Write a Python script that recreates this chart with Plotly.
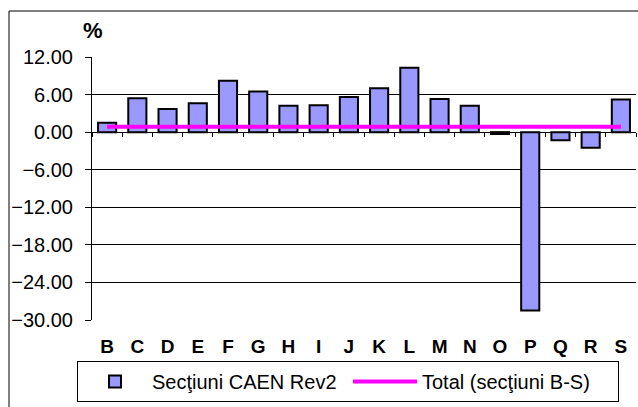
import plotly.graph_objects as go

categories = ["B", "C", "D", "E", "F", "G", "H", "I", "J", "K", "L", "M", "N", "O", "P", "Q", "R", "S"]
section_values = [1.5, 5.4, 3.7, 4.6, 8.2, 6.5, 4.2, 4.3, 5.6, 7.0, 10.3, 5.3, 4.2, -0.3, -28.5, -1.3, -2.5, 5.2]
total_values = [0.85] * len(categories)
y_ticks = [12, 6, 0, -6, -12, -18, -24, -30]

W, H = 638, 407
L, R, T, B = 92, 2, 57, 87
ymin, ymax = -30, 12
PW, PH = W - L - R, H - T - B

fig = go.Figure()
fig.add_trace(go.Bar(
    x=categories, y=section_values, name="Secţiuni CAEN Rev2",
    marker=dict(color="#9999FF", line=dict(color="black", width=2)),
    width=0.6,
))
fig.add_trace(go.Scatter(
    x=categories, y=total_values, name="Total (secţiuni B-S)", mode="lines",
    line=dict(color="#FF00FF", width=4), xaxis="x2",
))

font = dict(family="Liberation Sans, Arial, sans-serif", color="black")
fig.update_layout(
    width=W, height=H,
    margin=dict(l=L, r=R, t=T, b=B, pad=0),
    paper_bgcolor="white", plot_bgcolor="white",
    font=dict(**font, size=20),
    showlegend=True,
    legend=dict(orientation="h", x=(77 - L) / PW, y=-(361 - (H - B)) / PH,
                xanchor="left", yanchor="top", bordercolor="black", borderwidth=1,
                font=dict(**font, size=20), tracegroupgap=0, itemwidth=64,
                entrywidth=191, entrywidthmode="pixels",
                traceorder="normal"),
    xaxis=dict(type="category", categoryarray=categories, range=[-0.5, len(categories) - 0.5],
               showgrid=False, showline=False, ticks="", zeroline=False,
               tickfont=dict(**font, size=19, weight="bold"), ticklabelstandoff=13),
    xaxis2=dict(type="category", categoryarray=categories, range=[-0.5, len(categories) - 0.5],
                overlaying="x", anchor="free", position=(0 - ymin) / (ymax - ymin),
                side="bottom", showgrid=False, showline=False, showticklabels=False,
                ticks="outside", ticklen=4, tickwidth=1, tickcolor="black", tickson="boundaries",
                zeroline=False),
    yaxis=dict(range=[ymin, ymax], tickvals=y_ticks, tickformat=".2f",
               showgrid=True, gridcolor="black", gridwidth=1,
               zeroline=True, zerolinecolor="black", zerolinewidth=1,
               showline=True, linecolor="black", linewidth=1,
               ticks="outside", ticklen=6, tickcolor="black",
               tickfont=dict(**font, size=20), ticklabelstandoff=8),
    annotations=[dict(text="<b>%</b>", xref="paper", yref="paper",
                      x=(81 - L) / PW, y=1 + (T - 16) / PH,
                      xanchor="left", yanchor="top", showarrow=False,
                      font=dict(**font, size=22))],
    shapes=[dict(type="rect", xref="paper", yref="paper",
                 x0=(9 - L) / PW, x1=1.2,
                 y0=-0.5, y1=1 + (T - 11) / PH,
                 line=dict(color="black", width=1), fillcolor="rgba(0,0,0,0)", layer="below")],
)

fig.write_html("out.html", config={"displayModeBar": False},
               post_script="document.body.style.margin='0';document.body.style.padding='0';document.body.style.overflow='hidden';")
